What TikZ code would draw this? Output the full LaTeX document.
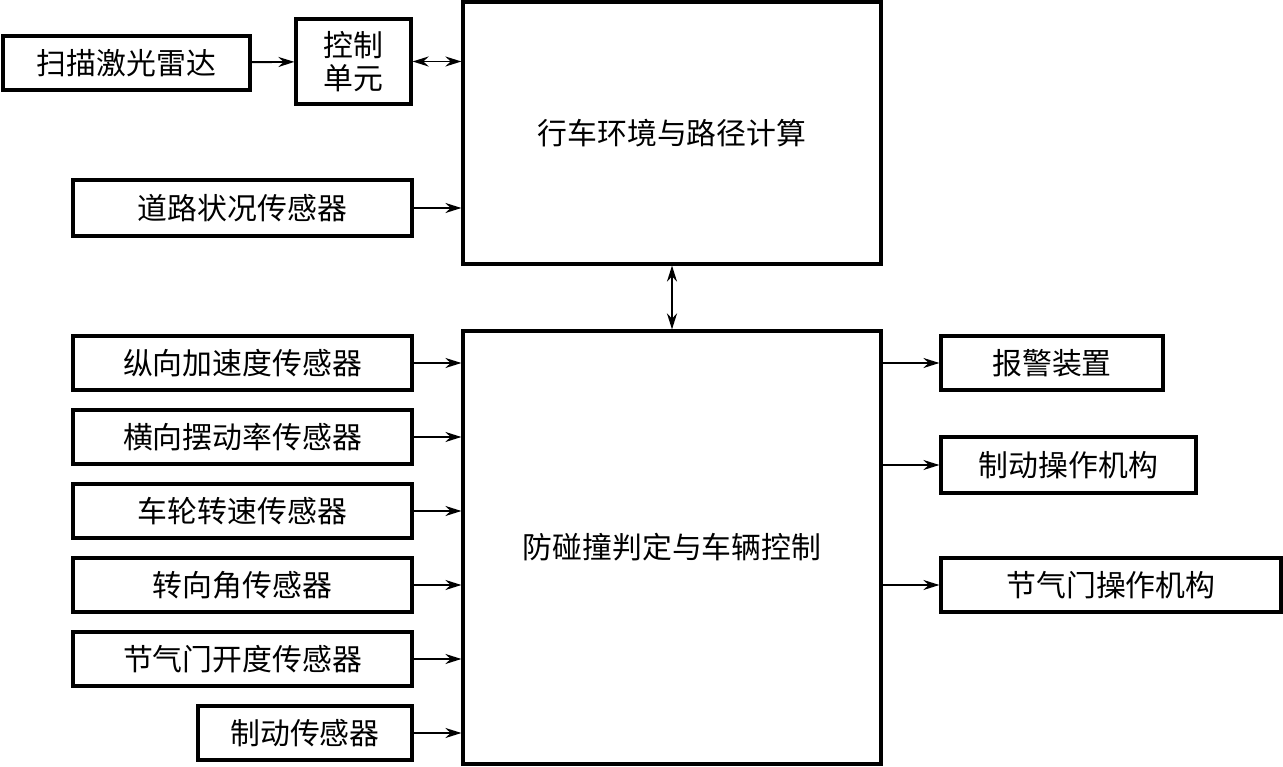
\documentclass[tikz,border=0pt]{standalone}
\usepackage{fontspec}
\setmainfont{Noto Sans CJK SC}
\usetikzlibrary{arrows.meta}
\begin{document}
\begin{tikzpicture}[box/.style={draw,line width=1.8pt,inner sep=0pt,align=center,font=\fontsize{17}{19}\selectfont},
	link/.style={line width=1.1pt,-{Stealth[length=0.32cm,width=0.2cm]}},
	twolink/.style={line width=1.1pt,{Stealth[length=0.32cm,width=0.2cm]}-{Stealth[length=0.32cm,width=0.2cm]}}]
		\useasboundingbox (0,0) rectangle (25.66,-15.34);
		\node[box,minimum width=4.94cm,minimum height=1.08cm] (laser) at (2.53,-1.26) {扫描激光雷达};
		\node[box,minimum width=2.30cm,minimum height=1.70cm] (unit) at (7.07,-1.23) {控制\\单元};
		\node[box,minimum width=8.36cm,minimum height=5.24cm] (env) at (13.44,-2.66) {行车环境与路径计算};
		\node[box,minimum width=6.78cm,minimum height=1.12cm] (road) at (4.85,-4.16) {道路状况传感器};
		\node[box,minimum width=8.36cm,minimum height=8.66cm] (judge) at (13.44,-10.95) {防碰撞判定与车辆控制};
		
		\node[box,minimum width=6.78cm,minimum height=1.08cm] (lonacc) at (4.85,-7.26) {纵向加速度传感器};
		\node[box,minimum width=6.78cm,minimum height=1.08cm] (yaw) at (4.85,-8.74) {横向摆动率传感器};
		\node[box,minimum width=6.78cm,minimum height=1.08cm] (wheel) at (4.85,-10.22) {车轮转速传感器};
		\node[box,minimum width=6.78cm,minimum height=1.08cm] (steer) at (4.85,-11.70) {转向角传感器};
		\node[box,minimum width=6.78cm,minimum height=1.08cm] (throttle) at (4.85,-13.18) {节气门开度传感器};
		\node[box,minimum width=4.28cm,minimum height=1.08cm] (brake) at (6.10,-14.66) {制动传感器};
		
		\node[box,minimum width=4.44cm,minimum height=1.08cm] (alarm) at (21.04,-7.26) {报警装置};
		\node[box,minimum width=5.10cm,minimum height=1.12cm] (brakeact) at (21.37,-9.30) {制动操作机构};
		\node[box,minimum width=6.80cm,minimum height=1.08cm] (throttleact) at (22.22,-11.70) {节气门操作机构};
		
		\draw[link] (laser) -- (unit);
		\draw[twolink] (unit.east) -- (unit.east -| env.west);
		\draw[link] (road.east) -- (road.east -| env.west);
		\draw[twolink] (env.south) -- (judge.north);
		\foreach \s in {lonacc,yaw,wheel,steer,throttle,brake}
			\draw[link] (\s.east) -- (\s.east -| judge.west);
		\foreach \a in {alarm,brakeact,throttleact}
			\draw[link] (\a.west -| judge.east) -- (\a.west);
\end{tikzpicture}
\end{document}
